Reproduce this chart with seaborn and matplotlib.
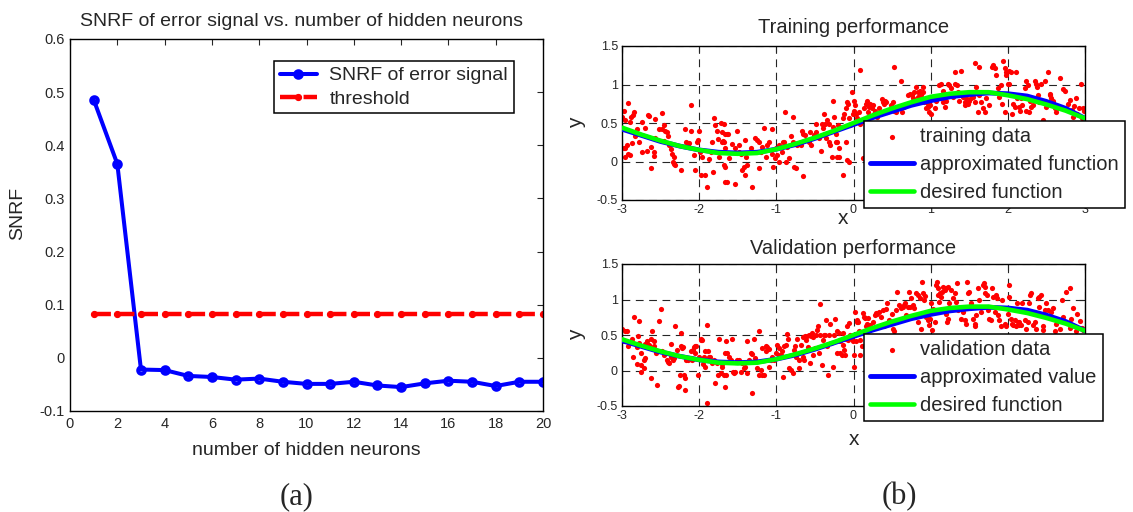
import matplotlib
matplotlib.use("Agg")
import matplotlib.pyplot as plt
import seaborn as sns

# ---------------- data ----------------
neurons = list(range(1, 21))
snrf = [0.486, 0.365, -0.022, -0.023, -0.034, -0.036, -0.041, -0.039, -0.045, -0.049,
        -0.049, -0.045, -0.052, -0.055, -0.048, -0.043, -0.045, -0.053, -0.045, -0.045]
threshold = [0.083] * 20

curve_x = [-3.0, -2.75, -2.5, -2.25, -2.0, -1.75, -1.5, -1.25, -1.0, -0.75, -0.5, -0.25, 0.0,
           0.25, 0.5, 0.75, 1.0, 1.25, 1.5, 1.75, 2.0, 2.25, 2.5, 2.75, 3.0]
approx_y = [0.42, 0.34, 0.26, 0.20, 0.15, 0.12, 0.11, 0.12, 0.16, 0.22, 0.30, 0.39, 0.48,
            0.57, 0.65, 0.73, 0.79, 0.84, 0.87, 0.89, 0.88, 0.85, 0.78, 0.69, 0.56]
desired_y = [0.44, 0.35, 0.27, 0.20, 0.15, 0.11, 0.10, 0.11, 0.16, 0.23, 0.31, 0.40, 0.50,
             0.60, 0.69, 0.77, 0.84, 0.88, 0.90, 0.90, 0.86, 0.81, 0.74, 0.66, 0.56]

train_points = [
    (-2.92, 0.76), (-2.98, 0.66), (-3.00, 0.58), (-2.96, 0.54), (-2.88, 0.58), (-2.85, 0.64),
    (-2.86, 0.60), (-2.89, 0.51), (-2.81, 0.42), (-2.83, 0.33), (-2.74, 0.51), (-2.70, 0.44),
    (-2.66, 0.60), (-2.65, 0.59), (-2.57, 0.55), (-2.48, 0.63), (-2.46, 0.48), (-2.48, 0.42),
    (-2.44, 0.39), (-2.42, 0.38), (-2.40, 0.33), (-2.45, 0.26), (-2.52, 0.42), (-2.57, 0.30),
    (-2.62, 0.19), (-2.63, -0.09), (-2.68, 0.13), (-2.74, 0.12), (-2.78, 0.25), (-2.87, 0.24),
    (-2.94, 0.21), (-2.96, 0.18), (-2.98, 0.17), (-2.92, 0.10), (-2.89, 0.08), (-2.96, 0.06),
    (-2.59, 0.12), (-2.58, 0.07), (-2.39, 0.21), (-2.37, 0.16), (-2.35, 0.10), (-2.33, 0.06),
    (-2.31, -0.05), (-2.33, -0.03), (-2.34, 0.00), (-2.24, -0.11), (-2.19, 0.42), (-2.17, 0.25),
    (-2.14, 0.23), (-2.11, 0.73), (-2.10, 0.39), (-2.13, 0.24), (-2.07, 0.08), (-2.05, -0.11),
    (-2.03, 0.25), (-2.01, 0.28), (-2.00, 0.40), (-1.99, 0.12), (-1.98, -0.18), (-1.96, 0.06),
    (-1.93, -0.17), (-1.90, -0.33), (-1.87, 0.03), (-1.85, 0.12), (-1.83, 0.25), (-1.82, -0.14),
    (-1.81, 0.56), (-1.79, 0.47), (-1.77, 0.40), (-1.75, 0.29), (-1.74, 0.06), (-1.72, 0.50),
    (-1.70, 0.38), (-1.69, 0.26), (-1.68, 0.25), (-1.67, -0.07), (-1.66, -0.27), (-1.64, 0.36),
    (-1.68, 0.49), (-1.70, 0.25), (-1.67, 0.36), (-1.62, 0.36), (-1.66, 0.17), (-1.68, -0.05),
    (-1.64, -0.27), (-1.61, 0.04), (-1.57, 0.23), (-1.53, 0.17), (-1.51, 0.40), (-1.49, 0.21),
    (-1.48, 0.12), (-1.53, -0.29), (-1.46, 0.10), (-1.44, -0.11), (-1.42, -0.07), (-1.41, -0.18),
    (-1.40, 0.28), (-1.39, 0.06), (-1.38, -0.05), (-1.33, 0.17), (-1.31, -0.33), (-1.27, 0.30),
    (-1.25, 0.28), (-1.22, 0.25), (-1.23, -0.09), (-1.20, 0.12), (-1.18, 0.19), (-1.16, 0.43),
    (-1.14, 0.06), (-1.12, 0.21), (-1.10, 0.25), (-1.06, 0.42), (-1.05, 0.10), (-1.04, -0.07),
    (-1.02, 0.04), (-1.01, 0.17), (-0.99, 0.08), (-0.96, 0.21), (-0.96, -0.01), (-0.93, 0.12),
    (-0.92, 0.25), (-0.89, 0.64), (-0.90, 0.25), (-0.88, -0.01), (-0.86, 0.19), (-0.84, 0.04),
    (-0.81, 0.33), (-0.79, 0.25), (-0.78, 0.58), (-0.77, -0.07), (-0.75, -0.09), (-0.73, 0.21),
    (-0.68, 0.21), (-0.67, 0.40), (-0.66, -0.19), (-0.65, 0.36), (-0.63, 0.34), (-0.61, 0.28),
    (-0.58, 0.25), (-0.57, 0.38), (-0.55, 0.21), (-0.51, 0.34), (-0.49, 0.38), (-0.48, 0.49),
    (-0.45, 0.30), (-0.42, 0.14), (-0.41, 0.49), (-0.40, 0.43), (-0.38, 0.62), (-0.37, 0.49),
    (-0.35, 0.30), (-0.34, 0.54), (-0.32, 0.49), (-0.32, 0.25), (-0.31, 0.21), (-0.28, 0.06),
    (-0.27, 0.78), (-0.26, 0.45), (-0.25, 0.58), (-0.23, 0.25), (-0.21, 0.06),
    (-0.23, 0.36), (-0.21, 0.25), (-0.20, 0.47), (-0.19, 0.17), (-0.17, 0.45), (-0.14, 0.56),
    (-0.12, 0.62), (-0.10, 0.69), (-0.08, 0.77), (-0.07, 0.75), (-0.06, 0.56), (-0.05, 0.47),
    (-0.02, 0.90), (-0.10, 0.25), (-0.08, 0.02), (-0.06, -0.01), (-0.19, 0.06), (-0.14, -0.18),
    (-0.01, 0.62), (0.00, 0.66), (0.01, 0.79), (0.02, 0.73), (0.03, 0.62), (0.04, 0.56),
    (0.05, 0.51), (0.07, 0.64), (0.08, 1.19), (0.09, 0.49), (0.12, 0.04), (0.14, 0.69),
    (0.16, 0.75), (0.18, 0.78), (0.19, 0.64), (0.20, 0.71), (0.22, 0.75), (0.24, 0.69),
    (0.25, 0.73), (0.27, 0.62), (0.28, 0.66), (0.31, 0.58), (0.33, 0.69), (0.37, 0.81),
    (0.38, 0.77), (0.40, 0.75), (0.41, 0.79), (0.42, 0.77), (0.44, 0.64), (0.46, 0.66),
    (0.48, 0.73), (0.51, 0.77), (0.52, 1.23), (0.53, 0.66), (0.55, 0.64), (0.59, 0.71),
    (0.61, 1.05), (0.63, 0.64), (0.66, 0.71), (0.68, 0.73), (0.70, 0.75), (0.71, 0.86),
    (0.73, 0.88), (0.76, 0.86), (0.77, 0.82), (0.79, 0.90), (0.81, 0.97), (0.83, 0.84),
    (0.84, 0.90), (0.86, 0.92), (0.87, 0.86), (0.90, 0.90), (0.90, 0.97), (0.92, 0.77),
    (0.94, 0.69), (0.96, 0.75), (0.97, 0.71), (0.98, 0.64), (0.99, 0.73), (1.00, 0.62),
    (1.03, 0.84), (1.05, 0.69), (1.07, 0.79), (1.11, 0.99), (1.13, 1.01), (1.16, 0.92),
    (1.18, 0.86), (1.20, 0.79),
    (1.16, 0.77), (1.18, 0.71), (1.22, 1.01), (1.24, 0.99), (1.26, 0.95), (1.29, 0.84),
    (1.31, 1.16), (1.32, 1.01), (1.34, 0.99), (1.35, 0.90), (1.37, 0.79), (1.39, 1.17),
    (1.42, 0.84), (1.44, 0.77), (1.45, 0.73), (1.46, 0.82), (1.48, 0.75), (1.50, 0.79),
    (1.52, 0.82), (1.55, 0.84), (1.57, 1.28), (1.58, 0.77), (1.59, 0.97), (1.61, 0.64),
    (1.62, 1.23), (1.63, 0.86), (1.65, 0.77), (1.68, 0.69), (1.70, 0.64), (1.72, 0.82),
    (1.76, 0.73), (1.80, 1.23), (1.81, 1.25), (1.83, 1.21), (1.85, 1.12), (1.87, 0.95),
    (1.89, 0.84), (1.91, 0.99), (1.93, 0.75), (1.94, 1.30), (1.96, 1.21), (1.96, 0.64),
    (1.97, 1.16), (1.98, 1.12), (2.00, 1.01), (2.01, 1.01), (2.02, 1.18), (2.04, 1.16),
    (2.06, 0.62), (2.07, 0.75), (2.09, 0.71), (2.11, 1.16), (2.12, 0.82), (2.14, 0.71),
    (2.16, 0.65), (2.17, 0.82), (2.19, 0.73), (2.22, 0.95), (2.23, 1.05), (2.24, 0.66),
    (2.26, 0.99), (2.27, 0.64), (2.29, 0.79), (2.30, 0.71), (2.32, 0.73), (2.35, 1.05),
    (2.36, 1.01), (2.38, 0.97), (2.39, 0.86), (2.41, 0.77), (2.43, 1.01), (2.45, 0.54),
    (2.48, 1.05), (2.50, 0.71), (2.52, 1.16), (2.54, 0.86), (2.55, 0.88), (2.56, 0.82),
    (2.58, 0.79), (2.61, 0.69), (2.63, 0.64), (2.65, 0.69), (2.68, 1.09), (2.72, 0.94),
    (2.74, 0.92), (2.78, 0.75), (2.80, 0.80), (2.83, 0.67), (2.86, 0.72), (2.88, 0.82),
    (2.90, 0.62), (2.92, 0.70), (2.95, 1.01), (2.97, 0.69), (2.99, 0.65), (2.96, 0.56),
    (2.84, 0.58),
]

valid_points = [
    (-3.00, 0.59), (-2.96, 0.55), (-2.94, 0.56), (-2.92, 0.34), (-2.98, 0.41), (-2.87, 0.45),
    (-2.84, 0.76), (-2.78, 0.70), (-2.79, 0.48), (-2.81, 0.33), (-2.76, 0.24), (-2.86, 0.19),
    (-2.81, 0.09), (-2.75, 0.08), (-2.72, 0.03), (-2.71, 0.15), (-2.70, 0.17), (-2.75, -0.02),
    (-2.78, 0.39), (-2.70, 0.38), (-2.68, 0.41), (-2.65, 0.36), (-2.63, -0.10), (-2.62, 0.45),
    (-2.61, 0.56), (-2.59, 0.41), (-2.58, 0.35), (-2.56, 0.24), (-2.55, -0.20), (-2.52, 0.70),
    (-2.50, 0.86), (-2.48, 0.27), (-2.46, 0.22), (-2.42, 0.15), (-2.40, 0.12), (-2.39, 0.10),
    (-2.37, 0.37), (-2.36, 0.19), (-2.34, 0.15), (-2.33, 0.17), (-2.31, 0.62), (-2.29, 0.29),
    (-2.27, -0.23), (-2.26, -0.22), (-2.25, -0.06), (-2.24, 0.53), (-2.23, 0.35), (-2.22, 0.31),
    (-2.21, 0.33), (-2.20, -0.06), (-2.19, -0.11), (-2.18, -0.27), (-2.17, 0.15), (-2.14, 0.15),
    (-2.11, 0.27), (-2.10, 0.17), (-2.09, 0.15), (-2.08, 0.29), (-2.07, 0.33), (-2.06, 0.34),
    (-2.05, 0.24), (-2.04, 0.35), (-2.01, -0.06), (-2.00, 0.19), (-1.98, 0.44), (-1.97, 0.43),
    (-1.96, 0.43), (-1.95, 0.09), (-1.94, 0.19), (-1.93, 0.27), (-1.92, 0.05), (-1.90, 0.64),
    (-1.88, 0.28), (-1.87, 0.19), (-1.86, 0.19), (-1.90, -0.46), (-1.83, 0.10), (-1.81, 0.15),
    (-1.79, -0.18), (-1.77, 0.10), (-1.75, -0.06), (-1.74, 0.45), (-1.72, -0.04), (-1.71, 0.09),
    (-1.70, 0.05), (-1.68, -0.06), (-1.66, -0.23), (-1.65, 0.41), (-1.64, 0.24),
    (-1.67, 0.25), (-1.65, -0.06), (-1.61, 0.19), (-1.59, 0.15), (-1.57, 0.45), (-1.56, -0.02),
    (-1.55, -0.04), (-1.54, -0.02), (-1.51, 0.15), (-1.48, 0.15), (-1.46, -0.02), (-1.44, 0.10),
    (-1.42, 0.03), (-1.40, 0.05), (-1.38, 0.42), (-1.38, -0.04), (-1.355, 0.15), (-1.33, 0.24),
    (-1.32, 0.23), (-1.31, -0.32), (-1.29, 0.44), (-1.27, 0.17), (-1.25, 0.03), (-1.23, -0.06),
    (-1.22, 0.55), (-1.20, 0.01), (-1.19, 0.31), (-1.18, -0.06), (-1.16, -0.06), (-1.14, 0.27),
    (-1.13, 0.35), (-1.12, 0.33), (-1.10, 0.05), (-1.095, 0.30), (-1.07, 0.15), (-1.05, 0.19),
    (-1.03, 0.15), (-1.01, 0.24), (-0.99, 0.36), (-0.97, 0.31), (-0.96, 0.22), (-0.94, 0.22),
    (-0.93, 0.27), (-0.92, -0.09), (-0.90, 0.34), (-0.88, 0.36), (-0.86, 0.52), (-0.845, 0.45),
    (-0.84, 0.03), (-0.81, 0.01), (-0.79, -0.04), (-0.77, 0.29), (-0.76, 0.35), (-0.74, 0.19),
    (-0.73, 0.45), (-0.71, 0.15), (-0.70, 0.03), (-0.68, 0.36), (-0.66, 0.19), (-0.65, 0.47),
    (-0.64, 0.15), (-0.63, 0.48), (-0.62, 0.43), (-0.60, 0.49), (-0.585, 0.33), (-0.58, 0.50),
    (-0.57, 0.10), (-0.55, 0.49), (-0.54, 0.53), (-0.53, 0.22), (-0.52, 0.47), (-0.50, 0.31),
    (-0.48, 0.50), (-0.47, 0.57), (-0.455, 0.63), (-0.45, 0.24), (-0.44, 0.50), (-0.43, 0.94),
    (-0.41, 0.08), (-0.40, 0.43), (-0.38, 0.50), (-0.37, 0.50), (-0.36, 0.71), (-0.34, 0.34),
    (-0.325, -0.06), (-0.32, 0.50), (-0.31, 0.66), (-0.29, 0.39), (-0.27, 0.05), (-0.25, 0.50),
    (-0.24, 0.73), (-0.22, 0.55), (-0.21, 0.24),
    (-0.19, 0.53), (-0.18, 0.41), (-0.17, 0.24), (-0.15, 0.22), (-0.14, 0.36), (-0.13, 0.53),
    (-0.12, 0.29), (-0.11, 0.22), (-0.10, 0.45), (-0.08, 0.62), (-0.07, 0.43), (-0.06, 0.67),
    (-0.04, 0.50), (-0.02, 0.45), (-0.01, 0.41), (0.00, 0.05), (0.01, 0.22), (0.02, 0.83),
    (0.03, 0.41), (0.04, 0.71), (0.05, 0.69), (0.06, 0.69), (0.07, 0.55), (0.09, 0.43),
    (0.09, 0.22), (0.11, 0.34), (0.12, 0.81), (0.14, 0.75), (0.15, 0.74), (0.16, 0.62),
    (0.18, 0.66), (0.19, 0.74), (0.20, 0.62), (0.22, 0.64), (0.25, 0.69), (0.28, 0.78),
    (0.29, 0.81), (0.31, 0.80), (0.33, 0.83), (0.35, 0.76), (0.38, 0.85), (0.40, 0.62),
    (0.42, 0.86), (0.44, 0.95), (0.46, 0.71), (0.50, 0.80), (0.51, 0.59), (0.53, 0.55),
    (0.55, 0.85), (0.57, 1.10), (0.59, 0.92), (0.61, 0.88), (0.64, 0.90), (0.66, 0.92),
    (0.67, 0.95), (0.68, 0.78), (0.70, 0.90), (0.72, 1.11), (0.73, 0.90), (0.74, 1.02),
    (0.77, 0.92), (0.79, 0.88), (0.81, 1.09), (0.83, 1.06), (0.84, 0.69), (0.86, 1.02),
    (0.87, 0.59), (0.89, 1.25), (0.90, 1.09), (0.92, 0.99), (0.93, 1.05), (0.94, 0.76),
    (0.96, 0.78), (0.97, 0.71), (0.98, 0.64), (0.99, 0.73), (1.00, 0.95), (1.02, 0.57),
    (1.03, 0.86), (1.05, 0.69), (1.07, 1.20), (1.08, 1.25), (1.09, 1.16), (1.10, 1.06),
    (1.11, 0.97), (1.12, 1.09), (1.13, 1.04), (1.15, 1.11), (1.16, 1.18), (1.18, 1.13),
    (1.20, 1.16), (1.22, 1.18),
    (1.20, 0.80), (1.21, 0.69), (1.22, 0.73), (1.24, 0.95), (1.26, 1.13), (1.29, 1.02),
    (1.31, 1.09), (1.33, 0.97), (1.34, 1.23), (1.36, 0.85), (1.39, 0.73), (1.42, 0.83),
    (1.44, 0.71), (1.46, 0.66), (1.47, 1.24), (1.48, 1.09), (1.50, 1.11), (1.52, 0.95),
    (1.55, 0.73), (1.57, 0.66), (1.58, 0.62), (1.59, 0.78), (1.61, 1.16), (1.63, 0.99),
    (1.65, 0.83), (1.68, 1.20), (1.685, 1.23), (1.70, 1.18), (1.71, 1.09), (1.73, 1.06),
    (1.74, 0.85), (1.76, 0.73), (1.78, 0.71), (1.80, 1.16), (1.81, 1.04), (1.83, 0.83),
    (1.85, 1.06), (1.86, 1.02), (1.87, 0.78), (1.89, 0.71), (1.91, 0.62), (1.93, 0.99),
    (1.96, 0.66), (1.98, 0.62), (2.00, 0.80), (2.01, 1.20), (2.02, 1.04), (2.04, 0.73),
    (2.06, 0.66), (2.07, 0.64), (2.09, 0.71), (2.10, 0.62), (2.12, 0.95), (2.13, 0.69),
    (2.14, 0.64), (2.15, 0.69), (2.17, 0.64), (2.19, 0.95), (2.22, 0.71), (2.24, 0.59),
    (2.26, 0.69), (2.27, 0.95), (2.29, 1.06), (2.30, 1.09), (2.32, 0.64), (2.35, 0.69),
    (2.37, 0.59), (2.39, 1.02), (2.40, 0.90), (2.41, 1.04), (2.43, 1.06), (2.45, 0.62),
    (2.46, 0.57), (2.48, 0.85), (2.50, 0.95), (2.52, 0.85), (2.54, 0.76), (2.56, 0.83),
    (2.58, 0.88), (2.61, 0.55), (2.63, 0.66), (2.65, 0.71), (2.70, 0.99), (2.75, 1.10),
    (2.81, 1.16), (2.72, 0.75), (2.80, 0.60), (2.85, 0.88), (2.90, 0.80), (2.93, 0.70),
    (2.96, 0.60), (2.98, 0.57), (2.88, 0.55), (2.82, 0.72), (2.68, 0.58),
]

train_x = [p[0] for p in train_points]
train_y = [p[1] for p in train_points]
valid_x = [p[0] for p in valid_points]
valid_y = [p[1] for p in valid_points]

# ---------------- style ----------------
sns.set_style("white")
plt.rcParams["font.family"] = ["Liberation Sans", "DejaVu Sans"]
plt.rcParams["axes.edgecolor"] = "black"
plt.rcParams["axes.linewidth"] = 1.0

W, H = 1133, 512
fig = plt.figure(figsize=(W / 100, H / 100), dpi=100)
fig.patch.set_facecolor("white")


def px_axes(x0, x1, ytop, ybot):
    return fig.add_axes([x0 / W, 1 - ybot / H, (x1 - x0) / W, (ybot - ytop) / H])


axL = px_axes(70, 543, 39, 411)
axT = px_axes(622, 1085, 46, 200)
axB = px_axes(622, 1085, 264, 406)

# ---------------- (a) SNRF vs hidden neurons ----------------
sns.lineplot(x=neurons, y=snrf, ax=axL, color="blue", linewidth=2.9,
             marker="o", markersize=4.8, markerfacecolor="none",
             markeredgecolor="blue", markeredgewidth=2.8,
             label="SNRF of error signal")
sns.lineplot(x=neurons, y=threshold, ax=axL, color="red", linewidth=3.2,
             linestyle=(0, (3.8, 1.5)), marker="o", markersize=4.4,
             markerfacecolor="red", markeredgecolor="red", markeredgewidth=0.8,
             label="threshold")

axL.set_xlim(0, 20)
axL.set_ylim(-0.1, 0.6)
xt = list(range(0, 21, 2))
axL.set_xticks(xt, [str(v) for v in xt])
yt = [-0.1, 0.0, 0.1, 0.2, 0.3, 0.4, 0.5, 0.6]
axL.set_yticks(yt, [f"{v:g}" for v in yt])
axL.tick_params(direction="in", top=True, right=True, length=4, width=0.8,
                labelsize=10.5, pad=4)
t = axL.set_title("SNRF of error signal vs. number of hidden neurons",
                  fontsize=14, x=0.49, y=1.046, pad=0)
t.set_va("center")
axL.set_xlabel("number of hidden neurons", fontsize=14)
axL.xaxis.label.set_va("center")
axL.xaxis.set_label_coords(0.5, -0.105)
axL.set_ylabel("SNRF", fontsize=14)
axL.yaxis.label.set_va("center")
axL.yaxis.set_label_coords(-0.11, 0.53)

legL = axL.legend(loc="upper left", bbox_to_anchor=(274 / W, 1 - 61 / H),
                  bbox_transform=fig.transFigure, fontsize=14, numpoints=1,
                  frameon=True, fancybox=False, shadow=False, framealpha=1,
                  edgecolor="black", borderpad=0.3, labelspacing=0.28,
                  handlelength=1.9, handletextpad=0.65, borderaxespad=0)
legL.get_frame().set_linewidth(1.1)


# ---------------- (b) training / validation fits ----------------
def fit_panel(ax, xs, ys, data_label, approx_label, title, title_y, xlabel_xy, legend_top):
    sns.scatterplot(x=xs, y=ys, ax=ax, color="red", s=14, linewidth=0,
                    label=data_label, zorder=2)
    sns.lineplot(x=curve_x, y=approx_y, ax=ax, color="blue", linewidth=3.5,
                 label=approx_label, zorder=3)
    sns.lineplot(x=curve_x, y=desired_y, ax=ax, color="#00ff00", linewidth=3.3,
                 label="desired function", zorder=4)
    ax.set_xlim(-3, 3)
    ax.set_ylim(-0.5, 1.5)
    xt = [-3, -2, -1, 0, 1, 2, 3]
    ax.set_xticks(xt, [str(v) for v in xt])
    yt = [-0.5, 0, 0.5, 1, 1.5]
    ax.set_yticks(yt, [f"{v:g}" for v in yt])
    ax.set_axisbelow(True)
    ax.grid(True, color="0.15", linestyle=(0, (7, 5)), linewidth=0.8)
    ax.tick_params(direction="in", top=True, right=True, length=4, width=0.8,
                   labelsize=9, pad=3)
    tt = ax.set_title(title, fontsize=14.5, x=0.5, y=title_y, pad=0)
    tt.set_va("center")
    ax.set_xlabel("x", fontsize=15)
    ax.xaxis.label.set_va("center")
    ax.xaxis.set_label_coords(*xlabel_xy)
    ax.set_ylabel("y", fontsize=15)
    ax.yaxis.label.set_va("center")
    ax.yaxis.set_label_coords(-0.098, 0.5)
    leg = ax.legend(loc="upper left", bbox_to_anchor=(864 / W, 1 - legend_top / H),
                    bbox_transform=fig.transFigure, fontsize=14.5, scatterpoints=1,
                    frameon=True, fancybox=False, shadow=False, framealpha=1,
                    edgecolor="black", borderpad=0.3, labelspacing=0.44,
                    handlelength=2.2, handletextpad=0.3, borderaxespad=0)
    leg.get_frame().set_linewidth(1.1)
    leg.set_zorder(10)


fit_panel(axT, train_x, train_y, "training data", "approximated function",
          "Training performance", 1.123, (0.477, -0.117), 121)
fit_panel(axB, valid_x, valid_y, "validation data", "approximated value",
          "Validation performance", 1.106, (0.501, -0.239), 334)

fig.text(297 / W, 1 - 497 / H, "(a)", fontsize=22, ha="center", va="center",
         family=["Liberation Serif", "DejaVu Serif"])
fig.text(899 / W, 1 - 497 / H, "(b)", fontsize=22, ha="center", va="center",
         family=["Liberation Serif", "DejaVu Serif"])

fig.savefig("out.png", dpi=100, facecolor="white")
